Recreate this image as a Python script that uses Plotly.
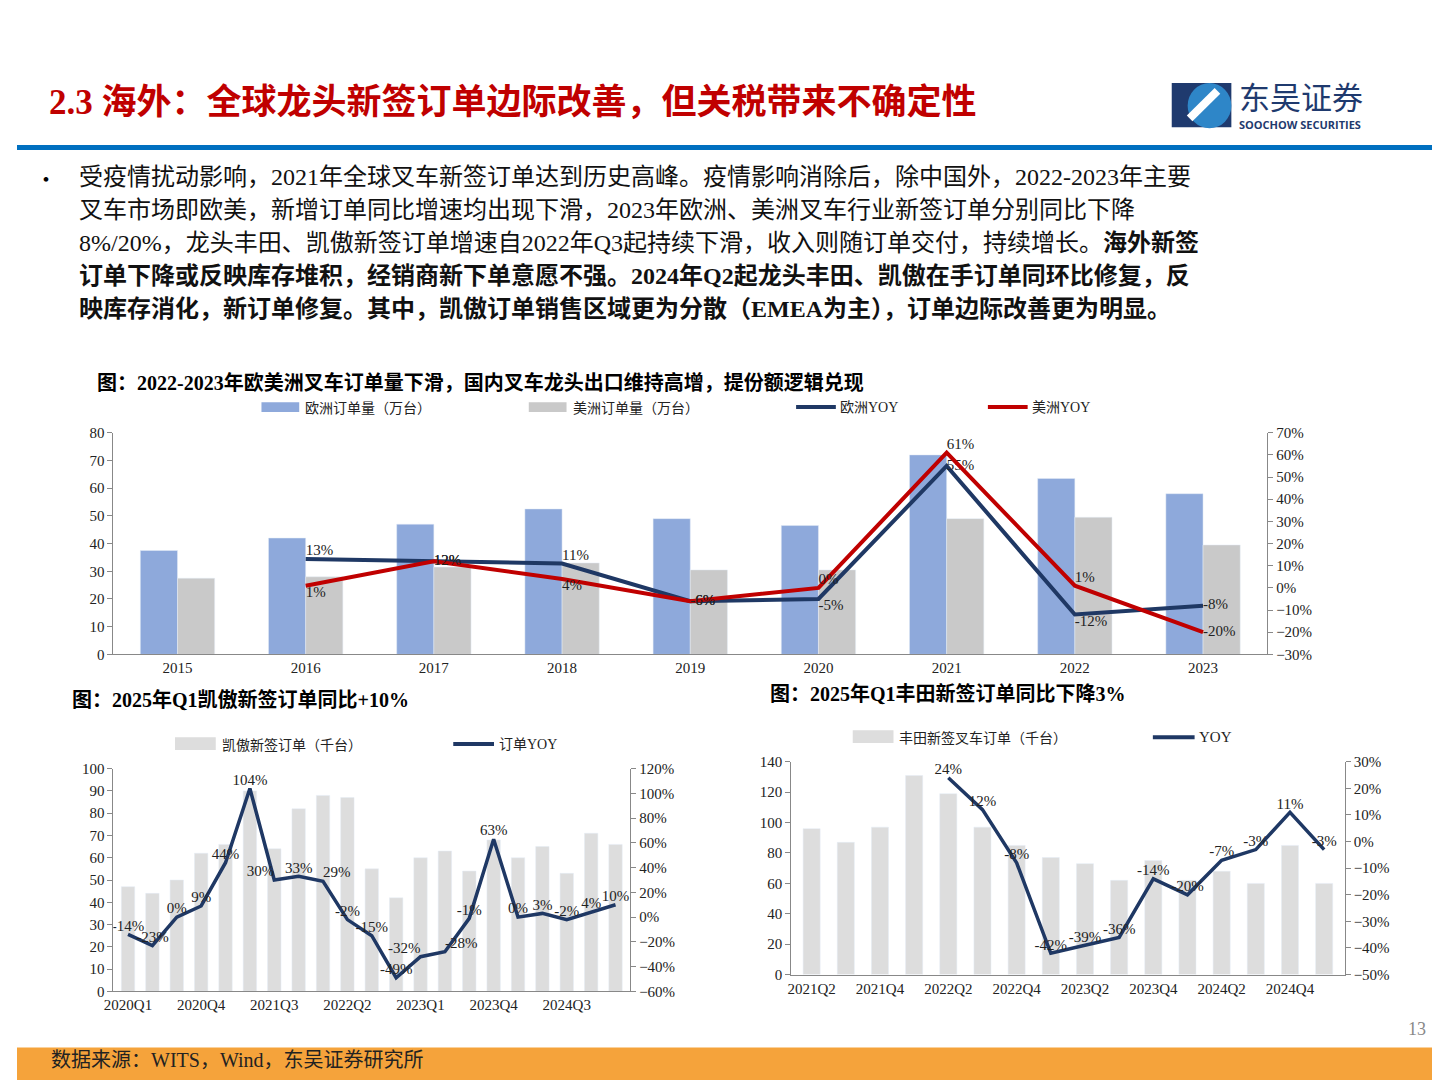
import plotly.graph_objects as go

# ---------- data ----------
years = ["2015","2016","2017","2018","2019","2020","2021","2022","2023"]
eu_orders = [37.5, 42, 47, 52.5, 49, 46.5, 72, 63.5, 58]
us_orders = [27.5, 28, 31.5, 33, 30.5, 30.5, 49, 49.5, 39.5]
eu_yoy = [None, 13, 12, 11, -6, -5, 55, -12, -8]
us_yoy = [None, 1, 12, 4, -6, 0, 61, 1, -20]

kion_q = ["2020Q1","2020Q2","2020Q3","2020Q4","2021Q1","2021Q2","2021Q3","2021Q4","2022Q1","2022Q2","2022Q3",
          "2022Q4","2023Q1","2023Q2","2023Q3","2023Q4","2024Q1","2024Q2","2024Q3","2024Q4","2025Q1"]
kion_orders = [47, 44, 50, 62, 66, 90, 64, 82, 88, 87, 55, 42, 60, 63, 54, 68, 60, 65, 53, 71, 66]
kion_yoy = [-14, -23, 0, 9, 44, 104, 30, 33, 29, -2, -15, -49, -32, -28, -1, 63, 0, 3, -2, 4, 10]
kion_ticks = ["2020Q1","2020Q4","2021Q3","2022Q2","2023Q1","2023Q4","2024Q3"]

toy_q = ["2021Q2","2021Q3","2021Q4","2022Q1","2022Q2","2022Q3","2022Q4","2023Q1","2023Q2","2023Q3","2023Q4",
         "2024Q1","2024Q2","2024Q3","2024Q4","2025Q1"]
toy_orders = [96, 87, 97, 131, 119, 97, 85, 77, 73, 62, 75, 62, 68, 60, 85, 60]
toy_yoy = [None, None, None, None, 24, 12, -8, -42, -39, -36, -14, -20, -7, -3, 11, -3]
toy_ticks = ["2021Q2","2021Q4","2022Q2","2022Q4","2023Q2","2023Q4","2024Q2","2024Q4"]

W, H = 1440, 1080
SERIF = "Liberation Serif, Noto Sans CJK SC"
CJK = "Noto Sans CJK SC"
NAVY = "#1F3864"
RED = "#C00000"

def px(x): return x / W
def py(y): return 1 - y / H

fig = go.Figure()

def pct(v): return None if v is None else f"{v}%"

# ---------- top chart ----------
xi = list(range(len(years)))
fig.add_bar(x=xi, y=eu_orders, marker_color="#8EA9DB", xaxis="x", yaxis="y", offsetgroup="a", showlegend=False)
fig.add_bar(x=xi, y=us_orders, marker_color="#C9C9C9", xaxis="x", yaxis="y", offsetgroup="b", showlegend=False)
fig.add_scatter(x=xi, y=eu_yoy, mode="lines+text", line=dict(color=NAVY, width=4),
                text=[pct(v) for v in eu_yoy], textposition=["middle right","top right","middle right","top right","middle right","bottom right","middle right","bottom right","middle right"],
                textfont=dict(family=SERIF, size=15, color="#222"), xaxis="x", yaxis="y2", showlegend=False)
fig.add_scatter(x=xi, y=us_yoy, mode="lines+text", line=dict(color=RED, width=4),
                text=[pct(v) for v in us_yoy], textposition=["middle right","bottom right","middle right","bottom right","middle right","top right","top right","top right","middle right"],
                textfont=dict(family=SERIF, size=15, color="#222"), xaxis="x", yaxis="y2", showlegend=False)

# ---------- bottom left ----------
ki = list(range(len(kion_q)))
kpos = ["top center"] * len(kion_q)
kpos[6] = "top left"; kpos[8] = "top right"; kpos[12] = "top left"; kpos[13] = "top right"
fig.add_bar(x=ki, y=kion_orders, marker_color="#DDDDDD", xaxis="x2", yaxis="y3", width=0.55, showlegend=False)
fig.add_scatter(x=ki, y=kion_yoy, mode="lines+text", line=dict(color=NAVY, width=3.5),
                text=[pct(v) for v in kion_yoy], textposition=kpos,
                textfont=dict(family=SERIF, size=15, color="#222"), xaxis="x2", yaxis="y4", showlegend=False)

# ---------- bottom right ----------
ti = list(range(len(toy_q)))
fig.add_bar(x=ti, y=toy_orders, marker_color="#DDDDDD", xaxis="x3", yaxis="y5", width=0.5, showlegend=False)
fig.add_scatter(x=ti, y=toy_yoy, mode="lines+text", line=dict(color=NAVY, width=3.5),
                text=[pct(v) for v in toy_yoy], textposition="top center",
                textfont=dict(family=SERIF, size=15, color="#222"), xaxis="x3", yaxis="y6", showlegend=False)

axfont = dict(family=SERIF, size=15, color="#222")
common_x = dict(showgrid=False, zeroline=False, showline=True, linecolor="#888", tickfont=axfont, ticks="")
common_y = dict(showgrid=False, zeroline=False, showline=True, linecolor="#888", tickfont=axfont, ticks="outside",
                ticklen=5, tickcolor="#888")

fig.update_layout(
    width=W, height=H, margin=dict(l=0, r=0, t=0, b=0),
    paper_bgcolor="white", plot_bgcolor="white",
    barmode="group", bargap=0.42, bargroupgap=0,
    xaxis=dict(common_x, domain=[px(97), px(1258)], anchor="y", range=[-0.5, 8.5],
               tickvals=xi, ticktext=years),
    yaxis=dict(common_y, domain=[py(648), py(423)], range=[0, 80], dtick=10, anchor="x"),
    yaxis2=dict(common_y, domain=[py(648), py(423)], range=[-30, 70], dtick=10, ticksuffix="%",
                overlaying="y", side="right", anchor="x"),
    xaxis2=dict(common_x, domain=[px(97), px(617)], anchor="y3", range=[-0.6, 20.6],
                tickvals=[kion_q.index(t) for t in kion_ticks], ticktext=kion_ticks),
    yaxis3=dict(common_y, domain=[py(990), py(764)], range=[0, 100], dtick=10, anchor="x2"),
    yaxis4=dict(common_y, domain=[py(990), py(764)], range=[-60, 120], dtick=20, ticksuffix="%",
                overlaying="y3", side="right", anchor="x2"),
    xaxis3=dict(common_x, domain=[px(779), px(1336)], anchor="y5", range=[-0.6, 15.6],
                tickvals=[toy_q.index(t) for t in toy_ticks], ticktext=toy_ticks),
    yaxis5=dict(common_y, domain=[py(973), py(757)], range=[0, 140], dtick=20, anchor="x3"),
    yaxis6=dict(common_y, domain=[py(973), py(757)], range=[-50, 30], dtick=10, ticksuffix="%",
                overlaying="y5", side="right", anchor="x3"),
)

shapes = []
ann = []
def text(x, y, s, size, color="#000", family=CJK, xanchor="left", yanchor="middle"):
    ann.append(dict(x=px(x), y=py(y), xref="paper", yref="paper", text=s, showarrow=False,
                    xanchor=xanchor, yanchor=yanchor, font=dict(family=family, size=size, color=color)))
def rect(x0, y0, x1, y1, color):
    shapes.append(dict(type="rect", xref="paper", yref="paper", x0=px(x0), x1=px(x1), y0=py(y1), y1=py(y0),
                       fillcolor=color, line=dict(width=0), layer="below"))
def line(x0, y0, x1, y1, color, w):
    shapes.append(dict(type="line", xref="paper", yref="paper", x0=px(x0), x1=px(x1), y0=py(y0), y1=py(y1),
                       line=dict(color=color, width=w)))

# header
text(30, 88, "<b>2.3 海外：全球龙头新签订单边际改善，但关税带来不确定性</b>", 35, RED, family="Liberation Serif, Noto Sans CJK SC")
rect(0, 131, 1440, 136, "#0070C0")
# logo
rect(1162, 68, 1222, 113, "#1F3A6E")
shapes.append(dict(type="circle", xref="paper", yref="paper", x0=px(1178), x1=px(1222), y0=py(114), y1=py(68),
                   fillcolor="#2E86C8", line=dict(width=0)))
line(1180, 104, 1208, 76, "white", 8)
text(1228, 81, "东吴证券", 31, "#1F3A6E")
text(1228, 110, "<b>SOOCHOW SECURITIES</b>", 11, "#1F3A6E", family="Open Sans")

# bullet text
text(16, 163, "•", 22)
lines = [
    "受疫情扰动影响，2021年全球叉车新签订单达到历史高峰。疫情影响消除后，除中国外，2022-2023年主要",
    "叉车市场即欧美，新增订单同比增速均出现下滑，2023年欧洲、美洲叉车行业新签订单分别同比下降",
    "8%/20%，龙头丰田、凯傲新签订单增速自2022年Q3起持续下滑，收入则随订单交付，持续增长。<b>海外新签</b>",
    "<b>订单下降或反映库存堆积，经销商新下单意愿不强。2024年Q2起龙头丰田、凯傲在手订单同环比修复，反</b>",
    "<b>映库存消化，新订单修复。其中，凯傲订单销售区域更为分散（EMEA为主），订单边际改善更为明显。</b>",
]
for i, s in enumerate(lines):
    text(60, 163 + i * 33.5, s, 24, "#111", family=SERIF)

# chart titles
text(78, 372, "<b>图：2022-2023年欧美洲叉车订单量下滑，国内叉车龙头出口维持高增，提份额逻辑兑现</b>", 20, "#000", family=SERIF)
text(53, 694, "<b>图：2025年Q1凯傲新签订单同比+10%</b>", 20, "#000", family=SERIF)
text(756, 688, "<b>图：2025年Q1丰田新签订单同比下降3%</b>", 20, "#000", family=SERIF)

# legends
rect(246, 392, 284, 402, "#8EA9DB"); text(288, 397, "欧洲订单量（万台）", 14, "#222")
rect(515, 392, 553, 402, "#C9C9C9"); text(557, 397, "美洲订单量（万台）", 14, "#222")
line(784, 397, 824, 397, NAVY, 4); text(826, 397, "欧洲YOY", 14, "#222", family=SERIF)
line(977, 397, 1017, 397, RED, 4); text(1019, 397, "美洲YOY", 14, "#222", family=SERIF)

rect(159, 732, 200, 745, "#DDDDDD"); text(204, 739, "凯傲新签订单（千台）", 14, "#222")
line(439, 739, 480, 739, NAVY, 4); text(483, 739, "订单YOY", 14, "#222", family=SERIF)

rect(841, 725, 882, 738, "#DDDDDD"); text(886, 732, "丰田新签叉车订单（千台）", 14, "#222")
line(1143, 732, 1185, 732, NAVY, 4); text(1187, 732, "YOY", 15, "#222", family=SERIF)

# footer
rect(0, 1047, 1440, 1080, "#F5A33B")
text(32, 1060, "数据来源：WITS，Wind，东吴证券研究所", 20, "#222", family=SERIF)
text(1420, 1028, "13", 18, "#888", family=SERIF, xanchor="right")

fig.update_layout(shapes=shapes, annotations=ann)
fig.write_html("out.html", config={"displayModeBar": False})
